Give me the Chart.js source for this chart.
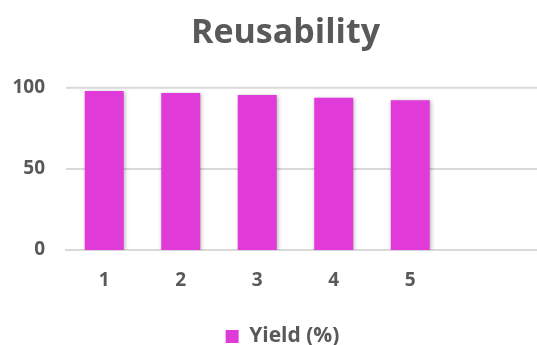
<!DOCTYPE html>
<html>
<head>
<meta charset="utf-8">
<script src="https://cdn.jsdelivr.net/npm/chart.js@4"></script>
<style>
  html, body { margin: 0; padding: 0; background: #fff; }
  #wrap { width: 537px; height: 345px; }
</style>
</head>
<body>
<div id="wrap"><canvas id="chart"></canvas></div>
<script>
const cycles = ['1', '2', '3', '4', '5', ''];
const yieldPct = [98, 96.8, 95.5, 93.8, 92.4, null];
const yTicks = [0, 50, 100];

const grey = '#595959';
const magenta = '#E03AD8';
const gridGrey = '#d9d9d9';
const font = 'Open Sans';

// horizontal gridlines, running from the y axis out to the canvas edge
const gridToEdge = {
    id: 'gridToEdge',
    beforeDatasetsDraw(chart) {
        const { ctx, chartArea } = chart;
        const y = chart.scales.y;
        ctx.save();
        ctx.strokeStyle = gridGrey;
        ctx.lineWidth = 2;
        yTicks.forEach(v => {
            const py = y.getPixelForValue(v);
            ctx.beginPath();
            ctx.moveTo(chartArea.left, py);
            ctx.lineTo(chart.width, py);
            ctx.stroke();
        });
        ctx.restore();
    }
};

// soft drop shadow under the bars
const barShadow = {
    id: 'barShadow',
    beforeDatasetsDraw(chart) {
        const ctx = chart.ctx;
        ctx.save();
        ctx.shadowColor = 'rgba(0,0,0,0.3)';
        ctx.shadowBlur = 4;
        ctx.shadowOffsetX = 1;
        ctx.shadowOffsetY = 1;
    },
    afterDatasetsDraw(chart) {
        chart.ctx.restore();
    }
};

// title and legend sit a little right of the canvas middle, legend low
const nudge = {
    id: 'nudge',
    afterLayout(chart) {
        chart.titleBlock.left += 19;
        chart.titleBlock.right += 19;
        chart.legend.left += 16;
        chart.legend.right += 16;
        chart.legend.top += 12;
        chart.legend.bottom += 12;
    }
};

new Chart(document.getElementById('chart'), {
    type: 'bar',
    data: {
        labels: cycles,
        datasets: [{
            label: 'Yield (%)',
            data: yieldPct,
            backgroundColor: magenta,
            barPercentage: 0.51,
            categoryPercentage: 1
        }]
    },
    options: {
        responsive: true,
        maintainAspectRatio: false,
        animation: false,
        layout: { padding: { left: 8, right: 12, top: 0, bottom: 0 } },
        plugins: {
            title: {
                display: true,
                text: 'Reusability',
                color: grey,
                font: { family: font, size: 34, weight: 'bold' },
                padding: { top: 13, bottom: 34 }
            },
            legend: {
                position: 'bottom',
                labels: {
                    color: grey,
                    font: { family: font, size: 21, weight: 'bold' },
                    boxWidth: 13,
                    boxHeight: 13,
                    padding: 1
                }
            },
            tooltip: { enabled: false }
        },
        scales: {
            x: {
                afterFit(axis) {
                    axis.height = 63;
                },
                grid: { display: false, drawTicks: false },
                border: { color: gridGrey, width: 2 },
                ticks: {
                    color: grey,
                    font: { family: font, size: 19, weight: 'bold' },
                    padding: 19.5
                }
            },
            y: {
                min: 0,
                max: 100,
                afterBuildTicks(axis) {
                    axis.ticks = yTicks.map(v => ({ value: v }));
                },
                afterFit(axis) {
                    axis.width = 58;
                },
                border: { display: false },
                grid: { display: false, drawTicks: false },
                ticks: {
                    color: grey,
                    font: { family: font, size: 19, weight: 'bold' },
                    padding: 21
                }
            }
        }
    },
    plugins: [gridToEdge, barShadow, nudge]
});
</script>
</body>
</html>
